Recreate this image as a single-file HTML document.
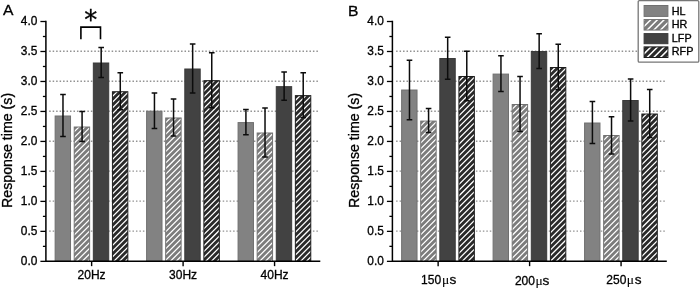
<!DOCTYPE html>
<html><head><meta charset="utf-8"><title>Response time</title>
<style>
html,body{margin:0;padding:0;background:#fff;}
svg{display:block;font-family:"Liberation Sans",sans-serif;fill:#000;}
text{stroke:#000;stroke-width:0.3px;}
</style></head><body>
<svg width="700" height="288" viewBox="0 0 700 288">
<rect width="700" height="288" fill="#fff"/>
<defs>
<clipPath id="c1"><rect x="74.73" y="127.52" width="14.40" height="133.83"/></clipPath>
<clipPath id="c2"><rect x="112.93" y="92.25" width="14.40" height="169.10"/></clipPath>
<clipPath id="c3"><rect x="166.20" y="118.48" width="14.40" height="142.87"/></clipPath>
<clipPath id="c4"><rect x="204.40" y="81.18" width="14.40" height="180.17"/></clipPath>
<clipPath id="c5"><rect x="257.67" y="133.51" width="14.40" height="127.84"/></clipPath>
<clipPath id="c6"><rect x="295.87" y="96.15" width="14.40" height="165.20"/></clipPath>
<clipPath id="c7"><rect x="421.23" y="121.59" width="14.40" height="139.76"/></clipPath>
<clipPath id="c8"><rect x="459.43" y="76.99" width="14.40" height="184.36"/></clipPath>
<clipPath id="c9"><rect x="512.70" y="105.01" width="14.40" height="156.34"/></clipPath>
<clipPath id="c10"><rect x="550.90" y="68.00" width="14.40" height="193.35"/></clipPath>
<clipPath id="c11"><rect x="604.17" y="136.02" width="14.40" height="125.33"/></clipPath>
<clipPath id="c12"><rect x="642.37" y="114.53" width="14.40" height="146.82"/></clipPath>
<clipPath id="c13"><rect x="644.60" y="20.05" width="22.80" height="9.50"/></clipPath>
<clipPath id="c14"><rect x="644.60" y="47.40" width="22.80" height="9.60"/></clipPath>
</defs>
<line x1="49.20" y1="231.12" x2="319.00" y2="231.12" stroke="#929292" stroke-width="1.4" stroke-dasharray="1.5 1.97"/>
<line x1="49.20" y1="201.14" x2="319.00" y2="201.14" stroke="#929292" stroke-width="1.4" stroke-dasharray="1.5 1.97"/>
<line x1="49.20" y1="171.16" x2="319.00" y2="171.16" stroke="#929292" stroke-width="1.4" stroke-dasharray="1.5 1.97"/>
<line x1="49.20" y1="141.18" x2="319.00" y2="141.18" stroke="#929292" stroke-width="1.4" stroke-dasharray="1.5 1.97"/>
<line x1="49.20" y1="111.20" x2="319.00" y2="111.20" stroke="#929292" stroke-width="1.4" stroke-dasharray="1.5 1.97"/>
<line x1="49.20" y1="81.22" x2="319.00" y2="81.22" stroke="#929292" stroke-width="1.4" stroke-dasharray="1.5 1.97"/>
<line x1="49.20" y1="51.24" x2="319.00" y2="51.24" stroke="#929292" stroke-width="1.4" stroke-dasharray="1.5 1.97"/>
<rect x="55.13" y="116.00" width="15.40" height="145.35" fill="#828282" stroke="#707070" stroke-width="1"/>
<rect x="74.23" y="127.02" width="15.40" height="134.33" fill="#7c7c7c" stroke="#727272" stroke-width="1"/>
<path clip-path="url(#c1)" d="M72.73,133.25 L80.46,125.52 M72.73,138.98 L86.19,125.52 M72.73,144.71 L91.92,125.52 M72.73,150.44 L97.65,125.52 M72.73,156.17 L103.38,125.52 M72.73,161.90 L109.11,125.52 M72.73,167.63 L114.84,125.52 M72.73,173.36 L120.57,125.52 M72.73,179.09 L126.30,125.52 M72.73,184.82 L132.03,125.52 M72.73,190.55 L137.76,125.52 M72.73,196.28 L143.49,125.52 M72.73,202.01 L149.22,125.52 M72.73,207.74 L154.95,125.52 M72.73,213.47 L160.68,125.52 M72.73,219.20 L166.41,125.52 M72.73,224.93 L172.14,125.52 M72.73,230.66 L177.87,125.52 M72.73,236.39 L183.60,125.52 M72.73,242.12 L189.33,125.52 M72.73,247.85 L195.06,125.52 M72.73,253.58 L200.79,125.52 M72.73,259.31 L206.52,125.52 M72.73,265.04 L212.25,125.52 M72.73,270.77 L217.98,125.52 M72.73,276.50 L223.71,125.52 M72.73,282.23 L229.44,125.52" stroke="#fff" stroke-width="1.25" fill="none"/>
<rect x="93.33" y="63.01" width="15.40" height="198.34" fill="#424242" stroke="#3a3a3a" stroke-width="1"/>
<rect x="112.43" y="91.75" width="15.40" height="169.60" fill="#2a2a2a" stroke="#1c1c1c" stroke-width="1"/>
<path clip-path="url(#c2)" d="M110.93,97.98 L118.66,90.25 M110.93,103.71 L124.39,90.25 M110.93,109.44 L130.12,90.25 M110.93,115.17 L135.85,90.25 M110.93,120.90 L141.58,90.25 M110.93,126.63 L147.31,90.25 M110.93,132.36 L153.04,90.25 M110.93,138.09 L158.77,90.25 M110.93,143.82 L164.50,90.25 M110.93,149.55 L170.23,90.25 M110.93,155.28 L175.96,90.25 M110.93,161.01 L181.69,90.25 M110.93,166.74 L187.42,90.25 M110.93,172.47 L193.15,90.25 M110.93,178.20 L198.88,90.25 M110.93,183.93 L204.61,90.25 M110.93,189.66 L210.34,90.25 M110.93,195.39 L216.07,90.25 M110.93,201.12 L221.80,90.25 M110.93,206.85 L227.53,90.25 M110.93,212.58 L233.26,90.25 M110.93,218.31 L238.99,90.25 M110.93,224.04 L244.72,90.25 M110.93,229.77 L250.45,90.25 M110.93,235.50 L256.18,90.25 M110.93,241.23 L261.91,90.25 M110.93,246.96 L267.64,90.25 M110.93,252.69 L273.37,90.25 M110.93,258.42 L279.10,90.25 M110.93,264.15 L284.83,90.25 M110.93,269.88 L290.56,90.25 M110.93,275.61 L296.29,90.25 M110.93,281.34 L302.02,90.25" stroke="#fff" stroke-width="1.25" fill="none"/>
<path d="M62.98,94.55 V136.46 M60.18,94.55 h5.6 M60.18,136.46 h5.6" stroke="#0c0c0c" stroke-width="1.5" fill="none"/>
<path d="M82.08,111.55 V141.49 M79.28,111.55 h5.6 M79.28,141.49 h5.6" stroke="#0c0c0c" stroke-width="1.5" fill="none"/>
<path d="M101.18,47.55 V77.48 M98.38,47.55 h5.6 M98.38,77.48 h5.6" stroke="#0c0c0c" stroke-width="1.5" fill="none"/>
<path d="M120.28,72.69 V109.82 M117.48,72.69 h5.6 M117.48,109.82 h5.6" stroke="#0c0c0c" stroke-width="1.5" fill="none"/>
<line x1="91.63" y1="261.35" x2="91.63" y2="266.15000000000003" stroke="#000" stroke-width="1.4"/>
<text x="91.63" y="279.0" text-anchor="middle" font-size="12">20Hz</text>
<rect x="146.60" y="111.21" width="15.40" height="150.14" fill="#828282" stroke="#707070" stroke-width="1"/>
<rect x="165.70" y="117.98" width="15.40" height="143.37" fill="#7c7c7c" stroke="#727272" stroke-width="1"/>
<path clip-path="url(#c3)" d="M164.20,124.21 L171.93,116.48 M164.20,129.94 L177.66,116.48 M164.20,135.67 L183.39,116.48 M164.20,141.40 L189.12,116.48 M164.20,147.13 L194.85,116.48 M164.20,152.86 L200.58,116.48 M164.20,158.59 L206.31,116.48 M164.20,164.32 L212.04,116.48 M164.20,170.05 L217.77,116.48 M164.20,175.78 L223.50,116.48 M164.20,181.51 L229.23,116.48 M164.20,187.24 L234.96,116.48 M164.20,192.97 L240.69,116.48 M164.20,198.70 L246.42,116.48 M164.20,204.43 L252.15,116.48 M164.20,210.16 L257.88,116.48 M164.20,215.89 L263.61,116.48 M164.20,221.62 L269.34,116.48 M164.20,227.35 L275.07,116.48 M164.20,233.08 L280.80,116.48 M164.20,238.81 L286.53,116.48 M164.20,244.54 L292.26,116.48 M164.20,250.27 L297.99,116.48 M164.20,256.00 L303.72,116.48 M164.20,261.73 L309.45,116.48 M164.20,267.46 L315.18,116.48 M164.20,273.19 L320.91,116.48 M164.20,278.92 L326.64,116.48" stroke="#fff" stroke-width="1.25" fill="none"/>
<rect x="184.80" y="69.00" width="15.40" height="192.35" fill="#424242" stroke="#3a3a3a" stroke-width="1"/>
<rect x="203.90" y="80.68" width="15.40" height="180.67" fill="#2a2a2a" stroke="#1c1c1c" stroke-width="1"/>
<path clip-path="url(#c4)" d="M202.40,86.91 L210.13,79.18 M202.40,92.64 L215.86,79.18 M202.40,98.37 L221.59,79.18 M202.40,104.10 L227.32,79.18 M202.40,109.83 L233.05,79.18 M202.40,115.56 L238.78,79.18 M202.40,121.29 L244.51,79.18 M202.40,127.02 L250.24,79.18 M202.40,132.75 L255.97,79.18 M202.40,138.48 L261.70,79.18 M202.40,144.21 L267.43,79.18 M202.40,149.94 L273.16,79.18 M202.40,155.67 L278.89,79.18 M202.40,161.40 L284.62,79.18 M202.40,167.13 L290.35,79.18 M202.40,172.86 L296.08,79.18 M202.40,178.59 L301.81,79.18 M202.40,184.32 L307.54,79.18 M202.40,190.05 L313.27,79.18 M202.40,195.78 L319.00,79.18 M202.40,201.51 L324.73,79.18 M202.40,207.24 L330.46,79.18 M202.40,212.97 L336.19,79.18 M202.40,218.70 L341.92,79.18 M202.40,224.43 L347.65,79.18 M202.40,230.16 L353.38,79.18 M202.40,235.89 L359.11,79.18 M202.40,241.62 L364.84,79.18 M202.40,247.35 L370.57,79.18 M202.40,253.08 L376.30,79.18 M202.40,258.81 L382.03,79.18 M202.40,264.54 L387.76,79.18 M202.40,270.27 L393.49,79.18 M202.40,276.00 L399.22,79.18 M202.40,281.73 L404.95,79.18" stroke="#fff" stroke-width="1.25" fill="none"/>
<path d="M154.45,93.05 V128.38 M151.65,93.05 h5.6 M151.65,128.38 h5.6" stroke="#0c0c0c" stroke-width="1.5" fill="none"/>
<path d="M173.55,98.92 V136.04 M170.75,98.92 h5.6 M170.75,136.04 h5.6" stroke="#0c0c0c" stroke-width="1.5" fill="none"/>
<path d="M192.65,43.95 V93.05 M189.85,43.95 h5.6 M189.85,93.05 h5.6" stroke="#0c0c0c" stroke-width="1.5" fill="none"/>
<path d="M211.75,52.63 V107.72 M208.95,52.63 h5.6 M208.95,107.72 h5.6" stroke="#0c0c0c" stroke-width="1.5" fill="none"/>
<line x1="183.10" y1="261.35" x2="183.10" y2="266.15000000000003" stroke="#000" stroke-width="1.4"/>
<text x="183.10" y="279.0" text-anchor="middle" font-size="12">30Hz</text>
<rect x="238.07" y="122.59" width="15.40" height="138.76" fill="#828282" stroke="#707070" stroke-width="1"/>
<rect x="257.17" y="133.01" width="15.40" height="128.34" fill="#7c7c7c" stroke="#727272" stroke-width="1"/>
<path clip-path="url(#c5)" d="M255.67,139.24 L263.40,131.51 M255.67,144.97 L269.13,131.51 M255.67,150.70 L274.86,131.51 M255.67,156.43 L280.59,131.51 M255.67,162.16 L286.32,131.51 M255.67,167.89 L292.05,131.51 M255.67,173.62 L297.78,131.51 M255.67,179.35 L303.51,131.51 M255.67,185.08 L309.24,131.51 M255.67,190.81 L314.97,131.51 M255.67,196.54 L320.70,131.51 M255.67,202.27 L326.43,131.51 M255.67,208.00 L332.16,131.51 M255.67,213.73 L337.89,131.51 M255.67,219.46 L343.62,131.51 M255.67,225.19 L349.35,131.51 M255.67,230.92 L355.08,131.51 M255.67,236.65 L360.81,131.51 M255.67,242.38 L366.54,131.51 M255.67,248.11 L372.27,131.51 M255.67,253.84 L378.00,131.51 M255.67,259.57 L383.73,131.51 M255.67,265.30 L389.46,131.51 M255.67,271.03 L395.19,131.51 M255.67,276.76 L400.92,131.51 M255.67,282.49 L406.65,131.51" stroke="#fff" stroke-width="1.25" fill="none"/>
<rect x="276.27" y="86.66" width="15.40" height="174.69" fill="#424242" stroke="#3a3a3a" stroke-width="1"/>
<rect x="295.37" y="95.65" width="15.40" height="165.70" fill="#2a2a2a" stroke="#1c1c1c" stroke-width="1"/>
<path clip-path="url(#c6)" d="M293.87,101.88 L301.60,94.15 M293.87,107.61 L307.33,94.15 M293.87,113.34 L313.06,94.15 M293.87,119.07 L318.79,94.15 M293.87,124.80 L324.52,94.15 M293.87,130.53 L330.25,94.15 M293.87,136.26 L335.98,94.15 M293.87,141.99 L341.71,94.15 M293.87,147.72 L347.44,94.15 M293.87,153.45 L353.17,94.15 M293.87,159.18 L358.90,94.15 M293.87,164.91 L364.63,94.15 M293.87,170.64 L370.36,94.15 M293.87,176.37 L376.09,94.15 M293.87,182.10 L381.82,94.15 M293.87,187.83 L387.55,94.15 M293.87,193.56 L393.28,94.15 M293.87,199.29 L399.01,94.15 M293.87,205.02 L404.74,94.15 M293.87,210.75 L410.47,94.15 M293.87,216.48 L416.20,94.15 M293.87,222.21 L421.93,94.15 M293.87,227.94 L427.66,94.15 M293.87,233.67 L433.39,94.15 M293.87,239.40 L439.12,94.15 M293.87,245.13 L444.85,94.15 M293.87,250.86 L450.58,94.15 M293.87,256.59 L456.31,94.15 M293.87,262.32 L462.04,94.15 M293.87,268.05 L467.77,94.15 M293.87,273.78 L473.50,94.15 M293.87,279.51 L479.23,94.15" stroke="#fff" stroke-width="1.25" fill="none"/>
<path d="M245.92,109.52 V134.66 M243.12,109.52 h5.6 M243.12,134.66 h5.6" stroke="#0c0c0c" stroke-width="1.5" fill="none"/>
<path d="M265.02,107.96 V157.06 M262.22,107.96 h5.6 M262.22,157.06 h5.6" stroke="#0c0c0c" stroke-width="1.5" fill="none"/>
<path d="M284.12,72.09 V100.24 M281.32,72.09 h5.6 M281.32,100.24 h5.6" stroke="#0c0c0c" stroke-width="1.5" fill="none"/>
<path d="M303.22,72.69 V117.60 M300.42,72.69 h5.6 M300.42,117.60 h5.6" stroke="#0c0c0c" stroke-width="1.5" fill="none"/>
<line x1="274.57" y1="261.35" x2="274.57" y2="266.15000000000003" stroke="#000" stroke-width="1.4"/>
<text x="274.57" y="279.0" text-anchor="middle" font-size="12">40Hz</text>
<path d="M45.9,20.81 V261.35 M45.15,261.35 H320.3" stroke="#000" stroke-width="1.5" fill="none"/>
<line x1="40.4" y1="261.35" x2="45.9" y2="261.35" stroke="#000" stroke-width="1.3"/>
<text x="37.4" y="265.25" text-anchor="end" font-size="11.9">0.0</text>
<line x1="42.9" y1="246.36" x2="45.9" y2="246.36" stroke="#000" stroke-width="1.3"/>
<line x1="40.4" y1="231.37" x2="45.9" y2="231.37" stroke="#000" stroke-width="1.3"/>
<text x="37.4" y="235.27" text-anchor="end" font-size="11.9">0.5</text>
<line x1="42.9" y1="216.38" x2="45.9" y2="216.38" stroke="#000" stroke-width="1.3"/>
<line x1="40.4" y1="201.39" x2="45.9" y2="201.39" stroke="#000" stroke-width="1.3"/>
<text x="37.4" y="205.29" text-anchor="end" font-size="11.9">1.0</text>
<line x1="42.9" y1="186.40" x2="45.9" y2="186.40" stroke="#000" stroke-width="1.3"/>
<line x1="40.4" y1="171.41" x2="45.9" y2="171.41" stroke="#000" stroke-width="1.3"/>
<text x="37.4" y="175.31" text-anchor="end" font-size="11.9">1.5</text>
<line x1="42.9" y1="156.42" x2="45.9" y2="156.42" stroke="#000" stroke-width="1.3"/>
<line x1="40.4" y1="141.43" x2="45.9" y2="141.43" stroke="#000" stroke-width="1.3"/>
<text x="37.4" y="145.33" text-anchor="end" font-size="11.9">2.0</text>
<line x1="42.9" y1="126.44" x2="45.9" y2="126.44" stroke="#000" stroke-width="1.3"/>
<line x1="40.4" y1="111.45" x2="45.9" y2="111.45" stroke="#000" stroke-width="1.3"/>
<text x="37.4" y="115.35" text-anchor="end" font-size="11.9">2.5</text>
<line x1="42.9" y1="96.46" x2="45.9" y2="96.46" stroke="#000" stroke-width="1.3"/>
<line x1="40.4" y1="81.47" x2="45.9" y2="81.47" stroke="#000" stroke-width="1.3"/>
<text x="37.4" y="85.37" text-anchor="end" font-size="11.9">3.0</text>
<line x1="42.9" y1="66.48" x2="45.9" y2="66.48" stroke="#000" stroke-width="1.3"/>
<line x1="40.4" y1="51.49" x2="45.9" y2="51.49" stroke="#000" stroke-width="1.3"/>
<text x="37.4" y="55.39" text-anchor="end" font-size="11.9">3.5</text>
<line x1="42.9" y1="36.50" x2="45.9" y2="36.50" stroke="#000" stroke-width="1.3"/>
<line x1="40.4" y1="21.51" x2="45.9" y2="21.51" stroke="#000" stroke-width="1.3"/>
<text x="37.4" y="25.41" text-anchor="end" font-size="11.9">4.0</text>
<text transform="translate(12.00,150.4) rotate(-90)" text-anchor="middle" font-size="14.2">Response time (s)</text>
<text transform="translate(3,15) scale(1.03,1)" font-size="15.2">A</text>
<line x1="396.10" y1="231.12" x2="665.50" y2="231.12" stroke="#929292" stroke-width="1.4" stroke-dasharray="1.5 1.97"/>
<line x1="396.10" y1="201.14" x2="665.50" y2="201.14" stroke="#929292" stroke-width="1.4" stroke-dasharray="1.5 1.97"/>
<line x1="396.10" y1="171.16" x2="665.50" y2="171.16" stroke="#929292" stroke-width="1.4" stroke-dasharray="1.5 1.97"/>
<line x1="396.10" y1="141.18" x2="665.50" y2="141.18" stroke="#929292" stroke-width="1.4" stroke-dasharray="1.5 1.97"/>
<line x1="396.10" y1="111.20" x2="665.50" y2="111.20" stroke="#929292" stroke-width="1.4" stroke-dasharray="1.5 1.97"/>
<line x1="396.10" y1="81.22" x2="665.50" y2="81.22" stroke="#929292" stroke-width="1.4" stroke-dasharray="1.5 1.97"/>
<line x1="396.10" y1="51.24" x2="665.50" y2="51.24" stroke="#929292" stroke-width="1.4" stroke-dasharray="1.5 1.97"/>
<rect x="401.63" y="90.02" width="15.40" height="171.33" fill="#828282" stroke="#707070" stroke-width="1"/>
<rect x="420.73" y="121.09" width="15.40" height="140.26" fill="#7c7c7c" stroke="#727272" stroke-width="1"/>
<path clip-path="url(#c7)" d="M419.23,127.32 L426.96,119.59 M419.23,133.05 L432.69,119.59 M419.23,138.78 L438.42,119.59 M419.23,144.51 L444.15,119.59 M419.23,150.24 L449.88,119.59 M419.23,155.97 L455.61,119.59 M419.23,161.70 L461.34,119.59 M419.23,167.43 L467.07,119.59 M419.23,173.16 L472.80,119.59 M419.23,178.89 L478.53,119.59 M419.23,184.62 L484.26,119.59 M419.23,190.35 L489.99,119.59 M419.23,196.08 L495.72,119.59 M419.23,201.81 L501.45,119.59 M419.23,207.54 L507.18,119.59 M419.23,213.27 L512.91,119.59 M419.23,219.00 L518.64,119.59 M419.23,224.73 L524.37,119.59 M419.23,230.46 L530.10,119.59 M419.23,236.19 L535.83,119.59 M419.23,241.92 L541.56,119.59 M419.23,247.65 L547.29,119.59 M419.23,253.38 L553.02,119.59 M419.23,259.11 L558.75,119.59 M419.23,264.84 L564.48,119.59 M419.23,270.57 L570.21,119.59 M419.23,276.30 L575.94,119.59 M419.23,282.03 L581.67,119.59" stroke="#fff" stroke-width="1.25" fill="none"/>
<rect x="439.83" y="58.52" width="15.40" height="202.83" fill="#424242" stroke="#3a3a3a" stroke-width="1"/>
<rect x="458.93" y="76.49" width="15.40" height="184.86" fill="#2a2a2a" stroke="#1c1c1c" stroke-width="1"/>
<path clip-path="url(#c8)" d="M457.43,82.72 L465.16,74.99 M457.43,88.45 L470.89,74.99 M457.43,94.18 L476.62,74.99 M457.43,99.91 L482.35,74.99 M457.43,105.64 L488.08,74.99 M457.43,111.37 L493.81,74.99 M457.43,117.10 L499.54,74.99 M457.43,122.83 L505.27,74.99 M457.43,128.56 L511.00,74.99 M457.43,134.29 L516.73,74.99 M457.43,140.02 L522.46,74.99 M457.43,145.75 L528.19,74.99 M457.43,151.48 L533.92,74.99 M457.43,157.21 L539.65,74.99 M457.43,162.94 L545.38,74.99 M457.43,168.67 L551.11,74.99 M457.43,174.40 L556.84,74.99 M457.43,180.13 L562.57,74.99 M457.43,185.86 L568.30,74.99 M457.43,191.59 L574.03,74.99 M457.43,197.32 L579.76,74.99 M457.43,203.05 L585.49,74.99 M457.43,208.78 L591.22,74.99 M457.43,214.51 L596.95,74.99 M457.43,220.24 L602.68,74.99 M457.43,225.97 L608.41,74.99 M457.43,231.70 L614.14,74.99 M457.43,237.43 L619.87,74.99 M457.43,243.16 L625.60,74.99 M457.43,248.89 L631.33,74.99 M457.43,254.62 L637.06,74.99 M457.43,260.35 L642.79,74.99 M457.43,266.08 L648.52,74.99 M457.43,271.81 L654.25,74.99 M457.43,277.54 L659.98,74.99 M457.43,283.27 L665.71,74.99" stroke="#fff" stroke-width="1.25" fill="none"/>
<path d="M409.48,60.18 V119.75 M406.68,60.18 h5.6 M406.68,119.75 h5.6" stroke="#0c0c0c" stroke-width="1.5" fill="none"/>
<path d="M428.58,108.62 V132.57 M425.78,108.62 h5.6 M425.78,132.57 h5.6" stroke="#0c0c0c" stroke-width="1.5" fill="none"/>
<path d="M447.68,37.37 V79.28 M444.88,37.37 h5.6 M444.88,79.28 h5.6" stroke="#0c0c0c" stroke-width="1.5" fill="none"/>
<path d="M466.78,51.14 V100.83 M463.98,51.14 h5.6 M463.98,100.83 h5.6" stroke="#0c0c0c" stroke-width="1.5" fill="none"/>
<line x1="438.13" y1="261.35" x2="438.13" y2="266.15000000000003" stroke="#000" stroke-width="1.4"/>
<text y="283.7" font-size="12"><tspan x="421.08">150</tspan><tspan x="442.03" font-size="13.5" font-family="Liberation Serif, serif" style="stroke-width:0.1px">μ</tspan><tspan x="449.43" font-size="13.6">s</tspan></text>
<rect x="493.10" y="74.09" width="15.40" height="187.26" fill="#828282" stroke="#707070" stroke-width="1"/>
<rect x="512.20" y="104.51" width="15.40" height="156.84" fill="#7c7c7c" stroke="#727272" stroke-width="1"/>
<path clip-path="url(#c9)" d="M510.70,110.74 L518.43,103.01 M510.70,116.47 L524.16,103.01 M510.70,122.20 L529.89,103.01 M510.70,127.93 L535.62,103.01 M510.70,133.66 L541.35,103.01 M510.70,139.39 L547.08,103.01 M510.70,145.12 L552.81,103.01 M510.70,150.85 L558.54,103.01 M510.70,156.58 L564.27,103.01 M510.70,162.31 L570.00,103.01 M510.70,168.04 L575.73,103.01 M510.70,173.77 L581.46,103.01 M510.70,179.50 L587.19,103.01 M510.70,185.23 L592.92,103.01 M510.70,190.96 L598.65,103.01 M510.70,196.69 L604.38,103.01 M510.70,202.42 L610.11,103.01 M510.70,208.15 L615.84,103.01 M510.70,213.88 L621.57,103.01 M510.70,219.61 L627.30,103.01 M510.70,225.34 L633.03,103.01 M510.70,231.07 L638.76,103.01 M510.70,236.80 L644.49,103.01 M510.70,242.53 L650.22,103.01 M510.70,248.26 L655.95,103.01 M510.70,253.99 L661.68,103.01 M510.70,259.72 L667.41,103.01 M510.70,265.45 L673.14,103.01 M510.70,271.18 L678.87,103.01 M510.70,276.91 L684.60,103.01 M510.70,282.64 L690.33,103.01" stroke="#fff" stroke-width="1.25" fill="none"/>
<rect x="531.30" y="51.52" width="15.40" height="209.83" fill="#424242" stroke="#3a3a3a" stroke-width="1"/>
<rect x="550.40" y="67.50" width="15.40" height="193.85" fill="#2a2a2a" stroke="#1c1c1c" stroke-width="1"/>
<path clip-path="url(#c10)" d="M548.90,73.73 L556.63,66.00 M548.90,79.47 L562.36,66.00 M548.90,85.19 L568.09,66.00 M548.90,90.92 L573.82,66.00 M548.90,96.66 L579.55,66.00 M548.90,102.38 L585.28,66.00 M548.90,108.11 L591.01,66.00 M548.90,113.84 L596.74,66.00 M548.90,119.58 L602.47,66.00 M548.90,125.31 L608.20,66.00 M548.90,131.03 L613.93,66.00 M548.90,136.76 L619.66,66.00 M548.90,142.50 L625.39,66.00 M548.90,148.23 L631.12,66.00 M548.90,153.95 L636.85,66.00 M548.90,159.69 L642.58,66.00 M548.90,165.42 L648.31,66.00 M548.90,171.15 L654.04,66.00 M548.90,176.88 L659.77,66.00 M548.90,182.61 L665.50,66.00 M548.90,188.34 L671.23,66.00 M548.90,194.06 L676.96,66.00 M548.90,199.79 L682.69,66.00 M548.90,205.53 L688.42,66.00 M548.90,211.25 L694.15,66.00 M548.90,216.98 L699.88,66.00 M548.90,222.72 L705.61,66.00 M548.90,228.44 L711.34,66.00 M548.90,234.17 L717.07,66.00 M548.90,239.91 L722.80,66.00 M548.90,245.63 L728.53,66.00 M548.90,251.37 L734.26,66.00 M548.90,257.10 L739.99,66.00 M548.90,262.82 L745.72,66.00 M548.90,268.56 L751.45,66.00 M548.90,274.28 L757.18,66.00 M548.90,280.01 L762.91,66.00" stroke="#fff" stroke-width="1.25" fill="none"/>
<path d="M500.95,55.63 V91.55 M498.15,55.63 h5.6 M498.15,91.55 h5.6" stroke="#0c0c0c" stroke-width="1.5" fill="none"/>
<path d="M520.05,76.47 V131.55 M517.25,76.47 h5.6 M517.25,131.55 h5.6" stroke="#0c0c0c" stroke-width="1.5" fill="none"/>
<path d="M539.15,33.65 V68.38 M536.35,33.65 h5.6 M536.35,68.38 h5.6" stroke="#0c0c0c" stroke-width="1.5" fill="none"/>
<path d="M558.25,44.25 V89.76 M555.45,44.25 h5.6 M555.45,89.76 h5.6" stroke="#0c0c0c" stroke-width="1.5" fill="none"/>
<line x1="529.60" y1="261.35" x2="529.60" y2="266.15000000000003" stroke="#000" stroke-width="1.4"/>
<text y="284.6" font-size="12"><tspan x="514.90">200</tspan><tspan x="535.40" font-size="13.5" font-family="Liberation Serif, serif" style="stroke-width:0.1px">μ</tspan><tspan x="542.60" font-size="13.6">s</tspan></text>
<rect x="584.57" y="123.01" width="15.40" height="138.34" fill="#828282" stroke="#707070" stroke-width="1"/>
<rect x="603.67" y="135.52" width="15.40" height="125.83" fill="#7c7c7c" stroke="#727272" stroke-width="1"/>
<path clip-path="url(#c11)" d="M602.17,141.75 L609.90,134.02 M602.17,147.48 L615.63,134.02 M602.17,153.21 L621.36,134.02 M602.17,158.94 L627.09,134.02 M602.17,164.67 L632.82,134.02 M602.17,170.40 L638.55,134.02 M602.17,176.13 L644.28,134.02 M602.17,181.86 L650.01,134.02 M602.17,187.59 L655.74,134.02 M602.17,193.32 L661.47,134.02 M602.17,199.05 L667.20,134.02 M602.17,204.78 L672.93,134.02 M602.17,210.51 L678.66,134.02 M602.17,216.24 L684.39,134.02 M602.17,221.97 L690.12,134.02 M602.17,227.70 L695.85,134.02 M602.17,233.43 L701.58,134.02 M602.17,239.16 L707.31,134.02 M602.17,244.89 L713.04,134.02 M602.17,250.62 L718.77,134.02 M602.17,256.35 L724.50,134.02 M602.17,262.08 L730.23,134.02 M602.17,267.81 L735.96,134.02 M602.17,273.54 L741.69,134.02 M602.17,279.27 L747.42,134.02" stroke="#fff" stroke-width="1.25" fill="none"/>
<rect x="622.77" y="100.50" width="15.40" height="160.85" fill="#424242" stroke="#3a3a3a" stroke-width="1"/>
<rect x="641.87" y="114.03" width="15.40" height="147.32" fill="#2a2a2a" stroke="#1c1c1c" stroke-width="1"/>
<path clip-path="url(#c12)" d="M640.37,120.26 L648.10,112.53 M640.37,125.99 L653.83,112.53 M640.37,131.72 L659.56,112.53 M640.37,137.45 L665.29,112.53 M640.37,143.18 L671.02,112.53 M640.37,148.91 L676.75,112.53 M640.37,154.64 L682.48,112.53 M640.37,160.37 L688.21,112.53 M640.37,166.10 L693.94,112.53 M640.37,171.83 L699.67,112.53 M640.37,177.56 L705.40,112.53 M640.37,183.29 L711.13,112.53 M640.37,189.02 L716.86,112.53 M640.37,194.75 L722.59,112.53 M640.37,200.48 L728.32,112.53 M640.37,206.21 L734.05,112.53 M640.37,211.94 L739.78,112.53 M640.37,217.67 L745.51,112.53 M640.37,223.40 L751.24,112.53 M640.37,229.13 L756.97,112.53 M640.37,234.86 L762.70,112.53 M640.37,240.59 L768.43,112.53 M640.37,246.32 L774.16,112.53 M640.37,252.05 L779.89,112.53 M640.37,257.78 L785.62,112.53 M640.37,263.51 L791.35,112.53 M640.37,269.24 L797.08,112.53 M640.37,274.97 L802.81,112.53 M640.37,280.70 L808.54,112.53" stroke="#fff" stroke-width="1.25" fill="none"/>
<path d="M592.42,101.55 V143.47 M589.62,101.55 h5.6 M589.62,143.47 h5.6" stroke="#0c0c0c" stroke-width="1.5" fill="none"/>
<path d="M611.52,116.76 V154.06 M608.72,116.76 h5.6 M608.72,154.06 h5.6" stroke="#0c0c0c" stroke-width="1.5" fill="none"/>
<path d="M630.62,79.04 V120.95 M627.82,79.04 h5.6 M627.82,120.95 h5.6" stroke="#0c0c0c" stroke-width="1.5" fill="none"/>
<path d="M649.72,89.58 V137.48 M646.92,89.58 h5.6 M646.92,137.48 h5.6" stroke="#0c0c0c" stroke-width="1.5" fill="none"/>
<line x1="621.07" y1="261.35" x2="621.07" y2="266.15000000000003" stroke="#000" stroke-width="1.4"/>
<text y="283.8" font-size="12"><tspan x="606.37">250</tspan><tspan x="626.77" font-size="13.5" font-family="Liberation Serif, serif" style="stroke-width:0.1px">μ</tspan><tspan x="634.67" font-size="13.6">s</tspan></text>
<path d="M392.4,20.81 V261.35 M391.65,261.35 H666.8" stroke="#000" stroke-width="1.5" fill="none"/>
<line x1="386.9" y1="261.35" x2="392.4" y2="261.35" stroke="#000" stroke-width="1.3"/>
<text x="383.9" y="265.25" text-anchor="end" font-size="11.9">0.0</text>
<line x1="389.4" y1="246.36" x2="392.4" y2="246.36" stroke="#000" stroke-width="1.3"/>
<line x1="386.9" y1="231.37" x2="392.4" y2="231.37" stroke="#000" stroke-width="1.3"/>
<text x="383.9" y="235.27" text-anchor="end" font-size="11.9">0.5</text>
<line x1="389.4" y1="216.38" x2="392.4" y2="216.38" stroke="#000" stroke-width="1.3"/>
<line x1="386.9" y1="201.39" x2="392.4" y2="201.39" stroke="#000" stroke-width="1.3"/>
<text x="383.9" y="205.29" text-anchor="end" font-size="11.9">1.0</text>
<line x1="389.4" y1="186.40" x2="392.4" y2="186.40" stroke="#000" stroke-width="1.3"/>
<line x1="386.9" y1="171.41" x2="392.4" y2="171.41" stroke="#000" stroke-width="1.3"/>
<text x="383.9" y="175.31" text-anchor="end" font-size="11.9">1.5</text>
<line x1="389.4" y1="156.42" x2="392.4" y2="156.42" stroke="#000" stroke-width="1.3"/>
<line x1="386.9" y1="141.43" x2="392.4" y2="141.43" stroke="#000" stroke-width="1.3"/>
<text x="383.9" y="145.33" text-anchor="end" font-size="11.9">2.0</text>
<line x1="389.4" y1="126.44" x2="392.4" y2="126.44" stroke="#000" stroke-width="1.3"/>
<line x1="386.9" y1="111.45" x2="392.4" y2="111.45" stroke="#000" stroke-width="1.3"/>
<text x="383.9" y="115.35" text-anchor="end" font-size="11.9">2.5</text>
<line x1="389.4" y1="96.46" x2="392.4" y2="96.46" stroke="#000" stroke-width="1.3"/>
<line x1="386.9" y1="81.47" x2="392.4" y2="81.47" stroke="#000" stroke-width="1.3"/>
<text x="383.9" y="85.37" text-anchor="end" font-size="11.9">3.0</text>
<line x1="389.4" y1="66.48" x2="392.4" y2="66.48" stroke="#000" stroke-width="1.3"/>
<line x1="386.9" y1="51.49" x2="392.4" y2="51.49" stroke="#000" stroke-width="1.3"/>
<text x="383.9" y="55.39" text-anchor="end" font-size="11.9">3.5</text>
<line x1="389.4" y1="36.50" x2="392.4" y2="36.50" stroke="#000" stroke-width="1.3"/>
<line x1="386.9" y1="21.51" x2="392.4" y2="21.51" stroke="#000" stroke-width="1.3"/>
<text x="383.9" y="25.41" text-anchor="end" font-size="11.9">4.0</text>
<text transform="translate(359.00,150.4) rotate(-90)" text-anchor="middle" font-size="14.2">Response time (s)</text>
<text transform="translate(348.1,16.3) scale(1.03,1)" font-size="15.2">B</text>
<path d="M80.9,39.3 V27.1 H100.5 V39.3" stroke="#000" stroke-width="1.6" fill="none"/>
<text x="90.8" y="29.4" text-anchor="middle" font-size="26" font-family="DejaVu Sans, sans-serif">*</text>
<rect x="638.2" y="0.65" width="60.6" height="61.5" fill="#fff" stroke="#767676" stroke-width="1.3" rx="1.2"/>
<rect x="644.10" y="5.50" width="23.80" height="10.90" fill="#828282" stroke="#707070" stroke-width="1"/>
<text transform="translate(671.8,14.8) scale(1.08,1)" font-size="10">HL</text>
<rect x="644.10" y="19.55" width="23.80" height="10.50" fill="#7c7c7c" stroke="#727272" stroke-width="1"/>
<path clip-path="url(#c13)" d="M642.60,21.25 L645.80,18.05 M642.60,27.92 L652.47,18.05 M642.60,34.59 L659.14,18.05 M642.60,41.26 L665.81,18.05 M642.60,47.93 L672.48,18.05 M642.60,54.60 L679.15,18.05 M642.60,61.27 L685.82,18.05" stroke="#fff" stroke-width="1.5" fill="none"/>
<text transform="translate(671.8,27.7) scale(1.08,1)" font-size="10">HR</text>
<rect x="644.10" y="33.60" width="23.80" height="10.10" fill="#424242" stroke="#3a3a3a" stroke-width="1"/>
<text transform="translate(671.8,42.0) scale(1.08,1)" font-size="10">LFP</text>
<rect x="644.10" y="46.90" width="23.80" height="10.60" fill="#2a2a2a" stroke="#1c1c1c" stroke-width="1"/>
<path clip-path="url(#c14)" d="M642.60,48.60 L645.80,45.40 M642.60,55.27 L652.47,45.40 M642.60,61.94 L659.14,45.40 M642.60,68.61 L665.81,45.40 M642.60,75.28 L672.48,45.40 M642.60,81.95 L679.15,45.40 M642.60,88.62 L685.82,45.40" stroke="#fff" stroke-width="1.5" fill="none"/>
<text transform="translate(671.8,54.8) scale(1.08,1)" font-size="10">RFP</text>
</svg>
</body></html>
